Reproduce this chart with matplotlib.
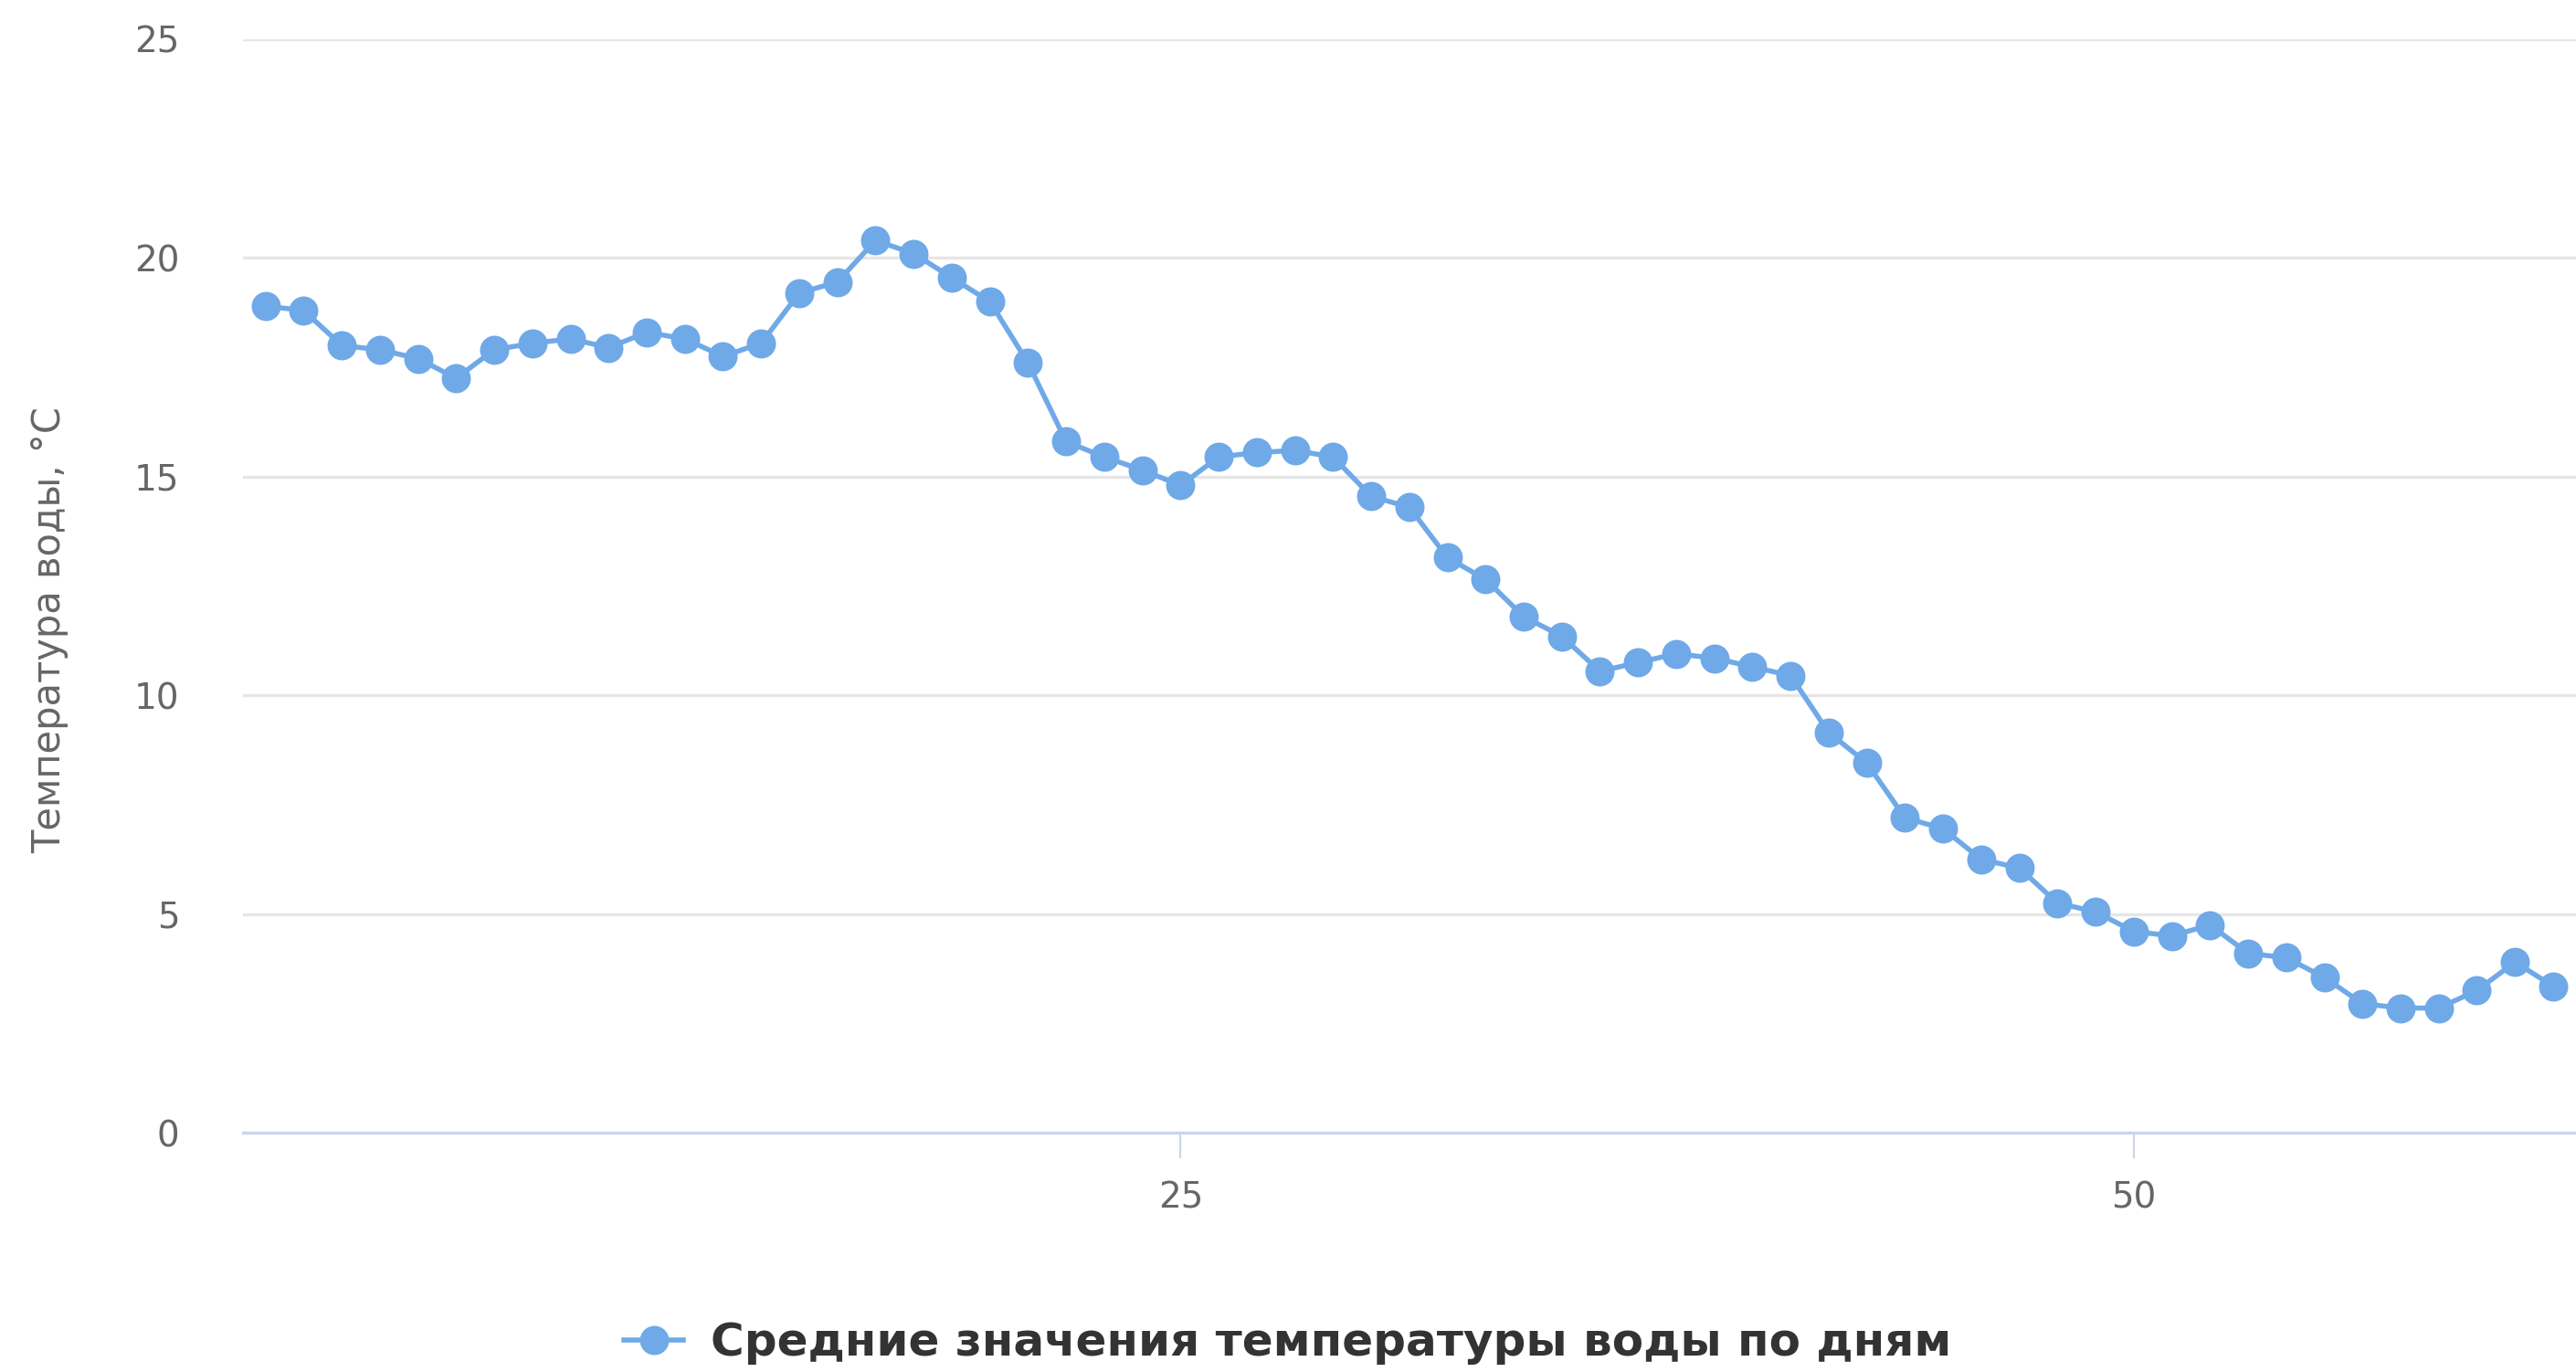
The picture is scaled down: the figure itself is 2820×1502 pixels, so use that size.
import numpy as np
import matplotlib
matplotlib.use("Agg")
from matplotlib import pyplot as plt
from matplotlib.lines import Line2D

# daily mean water temperature, days 1..61
days = np.arange(1, 62)
temps = [18.9, 18.8, 18.0, 17.9, 17.7, 17.25, 17.9, 18.05, 18.15, 17.95,
         18.3, 18.15, 17.75, 18.05, 19.2, 19.45, 20.4, 20.1, 19.55, 19.0,
         17.6, 15.8, 15.45, 15.15, 14.8, 15.45, 15.55, 15.6, 15.45, 14.55,
         14.3, 13.15, 12.65, 11.8, 11.35, 10.55, 10.75, 10.95, 10.85, 10.65,
         10.45, 9.15, 8.45, 7.2, 6.95, 6.25, 6.05, 5.25, 5.05, 4.6,
         4.5, 4.75, 4.1, 4.0, 3.55, 2.95, 2.85, 2.85, 3.25, 3.9,
         3.35]
y_ticks = [0, 5, 10, 15, 20, 25]
x_ticks = [25, 50]
series_name = "Средние значения температуры воды по дням"
y_title = "Температура воды, °C"

col = "#6fa9e8"

fig = plt.figure(figsize=(14.1, 7.51), dpi=200)
ax = fig.add_axes([266/2820, 1 - 1240/1502, 1 - 266/2820, (1240 - 43)/1502])

ax.plot(days, temps, color=col, lw=2.0, marker="o", ms=11.5,
        markeredgewidth=0, clip_on=False, zorder=3)

ax.set_xlim(0.41, 61.6)
ax.set_ylim(0, 25)
ax.set_yticks(y_ticks)
ax.set_xticks(x_ticks)

ax.grid(axis="y", color="#e6e6e6", lw=1.2)
ax.set_axisbelow(True)
for s in ["top", "right", "left"]:
    ax.spines[s].set_visible(False)
ax.spines["bottom"].set_color("#ccd6eb")
ax.spines["bottom"].set_linewidth(1.2)

ax.tick_params(axis="y", length=0, pad=25, labelsize=14, labelcolor="#666666")
ax.tick_params(axis="x", length=10, width=0.8, color="#ccd6eb", pad=9,
               labelsize=14, labelcolor="#666666")

fig.text(54/2820, 1 - 690/1502, y_title, rotation=90, ha="center", va="center",
         fontsize=15, color="#666666")

handle = Line2D([], [], color=col, lw=2.0, marker="o", ms=11.5, markeredgewidth=0)
leg = fig.legend([handle], [series_name], loc="center", bbox_to_anchor=(0.5, 0.021),
                 frameon=False, handlelength=1.3, handletextpad=0.6,
                 prop={"weight": "bold", "size": 18})
for t in leg.get_texts():
    t.set_color("#333333")

fig.savefig("out.png", dpi=200, facecolor="white")
